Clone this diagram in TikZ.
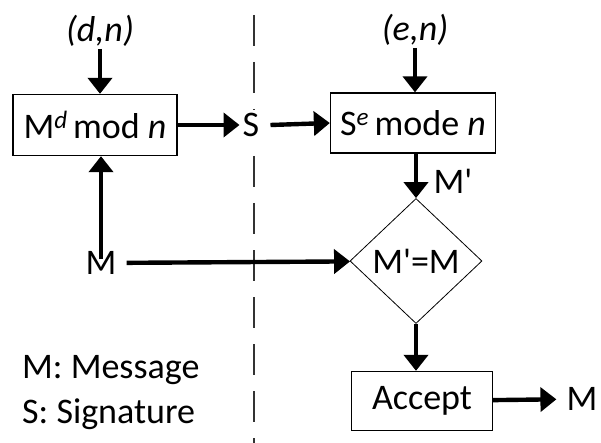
\documentclass[tikz,border=0pt]{standalone}
\usepackage{fontspec}
\setmainfont{Carlito}
\usetikzlibrary{arrows.meta,shapes.geometric}

\newcommand{\expo}[1]{\raisebox{0.55ex}{\fontsize{25}{25}\selectfont\textit{#1}}}
\newcommand{\prm}{\XeTeXglyph\the\XeTeXcharglyph"27\relax}

\begin{document}
\begin{tikzpicture}[x=1pt, y=-1pt, >={Triangle[length=16pt,width=24pt]},
  flow/.style={->, line width=4.4pt},
  lbl/.style={font=\fontsize{36}{40}\selectfont, inner sep=2pt},
  box/.style={lbl, draw, line width=1.3pt, minimum height=61pt, inner sep=0pt}]

\useasboundingbox (0,0) rectangle (601,443);

\draw[black!80, line width=1.4pt, dash pattern=on 31pt off 16pt] (254,15) -- (254,443);

% signing side
\node[lbl] (dn) at (100,31) {\textit{(d,n)}};
\node[box, minimum width=164pt] (sign) at (95,125) {M\expo{d}\,mod \textit{n}};
\node[lbl] (m) at (101,263) {M};
\node[lbl, fill=white, inner sep=3pt] (s) at (251,125) {S};

% verifying side
\node[lbl] (en) at (415,30) {\textit{(e,n)}};
\node[box, minimum width=165pt, minimum height=60pt] (verify) at (413,123) {S\expo{e}\,mode \textit{n}};
\node[lbl] (mp) at (453,181) {M\prm};
\node[lbl, draw, diamond, line width=0.8pt, inner sep=0pt, minimum width=132pt, minimum height=125pt] (cmp) at (416,261) {M\prm=M};
\node[box, minimum width=141pt, minimum height=59pt] (accept) at (422,401) {Accept};
\node[lbl] (out) at (582,399) {M};

% legend
\node[lbl, anchor=base west, inner sep=0pt] (keym) at (22,378) {M: Message};
\node[lbl, anchor=base west, inner sep=0pt] (keys) at (22,423) {S: Signature};

\draw[flow] (dn) -- (dn |- sign.north);
\draw[flow] (sign) -- (s);
\draw[flow] (s.east) ++(8pt,0) -- (verify.west);
\draw[flow] (en) -- (en |- verify.north);
\draw[flow] (cmp.north |- verify.south) -- (cmp.north);
\draw[flow] ([yshift=-10pt]m.north) -- (m |- sign.south);
\draw[flow, shorten <=8pt] (m) -- (cmp);
\draw[flow] (cmp.south) -- (cmp.south |- accept.north);
\draw[flow, shorten >=8pt] (accept) -- (out);

\end{tikzpicture}
\end{document}
